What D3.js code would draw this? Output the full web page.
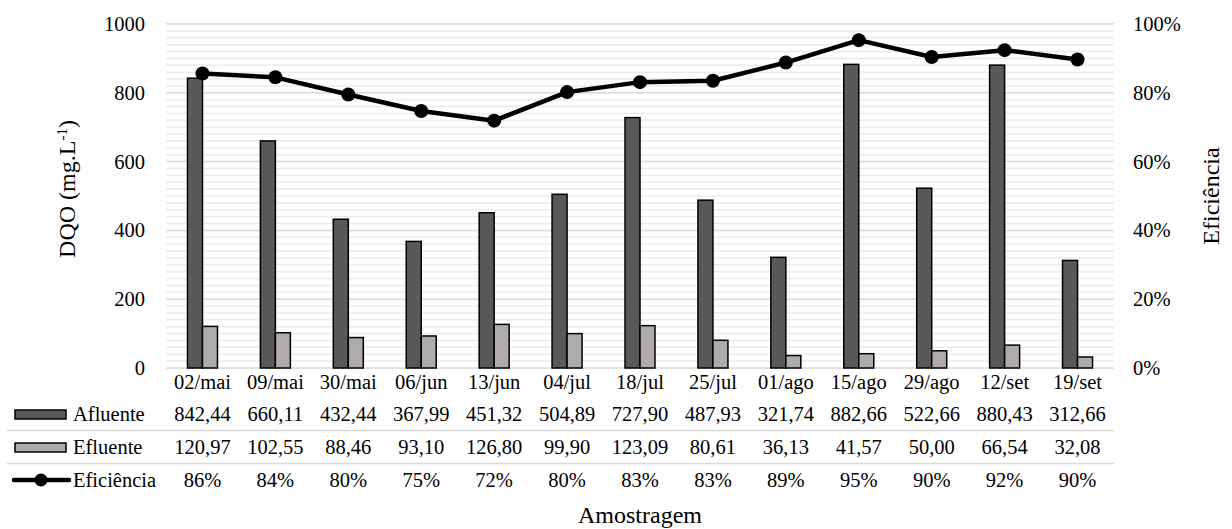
<!DOCTYPE html>
<html><head><meta charset="utf-8">
<script src="https://cdn.jsdelivr.net/npm/d3@7"></script>
<style>body{margin:0;background:#fff}svg{display:block}</style>
</head><body>
<svg id="c" width="1232" height="529" font-family="Liberation Serif"></svg>
<script>
const categories = ["02/mai","09/mai","30/mai","06/jun","13/jun","04/jul","18/jul","25/jul","01/ago","15/ago","29/ago","12/set","19/set"];
const afluente = [842.44,660.11,432.44,367.99,451.32,504.89,727.90,487.93,321.74,882.66,522.66,880.43,312.66];
const efluente = [120.97,102.55,88.46,93.10,126.80,99.90,123.09,80.61,36.13,41.57,50.00,66.54,32.08];
const eficiencia = [0.856,0.845,0.795,0.747,0.719,0.802,0.831,0.835,0.888,0.953,0.904,0.924,0.897];
const eficienciaLabels = ["86%","84%","80%","75%","72%","80%","83%","83%","89%","95%","90%","92%","90%"];
const leftTicks = [0,200,400,600,800,1000];
const rightTicks = [0,0.2,0.4,0.6,0.8,1.0];

const FONT = "Liberation Serif";
const svg = d3.select("#c");
const L = 166, R = 1114, T = 24, B = 368;
const fs = 20.5, fsTitle = 24;
const x = d3.scaleBand().domain(categories).range([L, R]);
const y = d3.scaleLinear().domain([0, 1000]).range([B, T]);
const y2 = d3.scaleLinear().domain([0, 1]).range([B, T]);
const fmt = d3.format(",.2f");
const ptFmt = v => fmt(v).replace(/,/g, "X").replace(/\./g, ",").replace(/X/g, ".");

// minor gridlines
svg.append("g").selectAll("line").data(d3.range(0, 1001, 20).filter(v => v % 200 !== 0))
  .join("line").attr("x1", L).attr("x2", R).attr("y1", d => y(d)).attr("y2", d => y(d))
  .attr("stroke", "#ebebeb").attr("stroke-width", 1.5);
// major gridlines
svg.append("g").selectAll("line").data(leftTicks)
  .join("line").attr("x1", L).attr("x2", R).attr("y1", d => y(d)).attr("y2", d => y(d))
  .attr("stroke", "#d9d9d9").attr("stroke-width", 1.5);

// axes
const yAxis = d3.axisLeft(y).tickValues(leftTicks).tickSize(0).tickPadding(0).tickFormat(d3.format("d"));
const gl = svg.append("g").attr("transform", `translate(145,0)`).call(yAxis).attr("font-family", FONT).attr("font-size", fs);
gl.select(".domain").remove();
gl.selectAll("text").attr("fill", "#000").attr("font-family", FONT).attr("font-size", fs);
const yAxis2 = d3.axisRight(y2).tickValues(rightTicks).tickSize(0).tickPadding(0).tickFormat(d3.format(".0%"));
const gr = svg.append("g").attr("transform", `translate(1133,0)`).call(yAxis2).attr("font-family", FONT).attr("font-size", fs);
gr.select(".domain").remove();
gr.selectAll("text").attr("fill", "#000").attr("font-family", FONT).attr("font-size", fs);

// bars
const bw = 15;
svg.append("g").selectAll("rect").data(afluente).join("rect")
  .attr("x", (d, i) => x(categories[i]) + x.bandwidth() / 2 - bw)
  .attr("y", d => y(d)).attr("width", bw).attr("height", d => B - y(d))
  .attr("fill", "#595959").attr("stroke", "#000").attr("stroke-width", 1.5);
svg.append("g").selectAll("rect").data(efluente).join("rect")
  .attr("x", (d, i) => x(categories[i]) + x.bandwidth() / 2)
  .attr("y", d => y(d)).attr("width", bw).attr("height", d => B - y(d))
  .attr("fill", "#afabab").attr("stroke", "#000").attr("stroke-width", 1.5);

// line
const line = d3.line().x((d, i) => x(categories[i]) + x.bandwidth() / 2).y(d => y2(d));
svg.append("path").datum(eficiencia).attr("d", line).attr("fill", "none")
  .attr("stroke", "#000").attr("stroke-width", 4.5).attr("stroke-linejoin", "round");
svg.append("g").selectAll("circle").data(eficiencia).join("circle")
  .attr("cx", (d, i) => x(categories[i]) + x.bandwidth() / 2).attr("cy", d => y2(d))
  .attr("r", 7).attr("fill", "#000");

// data table
const cx = c => x(c) + x.bandwidth() / 2;
const tbl = svg.append("g");
const T0 = sel => sel.attr("font-family", FONT).attr("font-size", fs).attr("text-anchor", "middle").attr("fill", "#000");
tbl.selectAll("text.cat").data(categories).join("text").attr("class", "cat").call(T0)
  .attr("x", d => cx(d)).attr("y", 389).text(d => d);
tbl.selectAll("text.af").data(afluente).join("text").attr("class", "af").call(T0)
  .attr("x", (d, i) => cx(categories[i])).attr("y", 421).text(d => ptFmt(d));
tbl.selectAll("text.ef").data(efluente).join("text").attr("class", "ef").call(T0)
  .attr("x", (d, i) => cx(categories[i])).attr("y", 454).text(d => ptFmt(d));
tbl.selectAll("text.efi").data(eficienciaLabels).join("text").attr("class", "efi").call(T0)
  .attr("x", (d, i) => cx(categories[i])).attr("y", 487).text(d => d);

// separators
[430.5, 463.5].forEach(yy => svg.append("line").attr("x1", 7).attr("x2", R).attr("y1", yy).attr("y2", yy)
  .attr("stroke", "#d9d9d9").attr("stroke-width", 1.5));

// legend keys
svg.append("rect").attr("x", 15).attr("y", 410).attr("width", 51).attr("height", 9)
  .attr("fill", "#595959").attr("stroke", "#000").attr("stroke-width", 1.5);
svg.append("rect").attr("x", 15).attr("y", 443).attr("width", 51).attr("height", 9)
  .attr("fill", "#afabab").attr("stroke", "#000").attr("stroke-width", 1.5);
svg.append("line").attr("x1", 14).attr("x2", 69).attr("y1", 480).attr("y2", 480)
  .attr("stroke", "#000").attr("stroke-width", 4.5).attr("stroke-linecap", "round");
svg.append("circle").attr("cx", 41).attr("cy", 480).attr("r", 6.5).attr("fill", "#000");
const lg = svg.append("g");
const L0 = sel => sel.attr("font-family", FONT).attr("font-size", fs).attr("fill", "#000");
lg.append("text").call(L0).attr("x", 73).attr("y", 421).text("Afluente");
lg.append("text").call(L0).attr("x", 73).attr("y", 454).text("Efluente");
lg.append("text").call(L0).attr("x", 73).attr("y", 487).text("Eficiência");

// titles
svg.append("text").call(L0).attr("font-size", fsTitle).attr("x", 640).attr("y", 523).attr("text-anchor", "middle").text("Amostragem");
const lt = svg.append("text").call(L0).attr("font-size", fsTitle).attr("transform", "translate(75,189) rotate(-90)").attr("text-anchor", "middle");
lt.append("tspan").text("DQO (mg.L");
lt.append("tspan").attr("font-size", 15).attr("dy", -8).text("-1");
lt.append("tspan").attr("dy", 8).text(")");
svg.append("text").call(L0).attr("font-size", fsTitle).attr("transform", "translate(1219,196) rotate(-90)").attr("text-anchor", "middle").text("Eficiência");
</script>
</body></html>
